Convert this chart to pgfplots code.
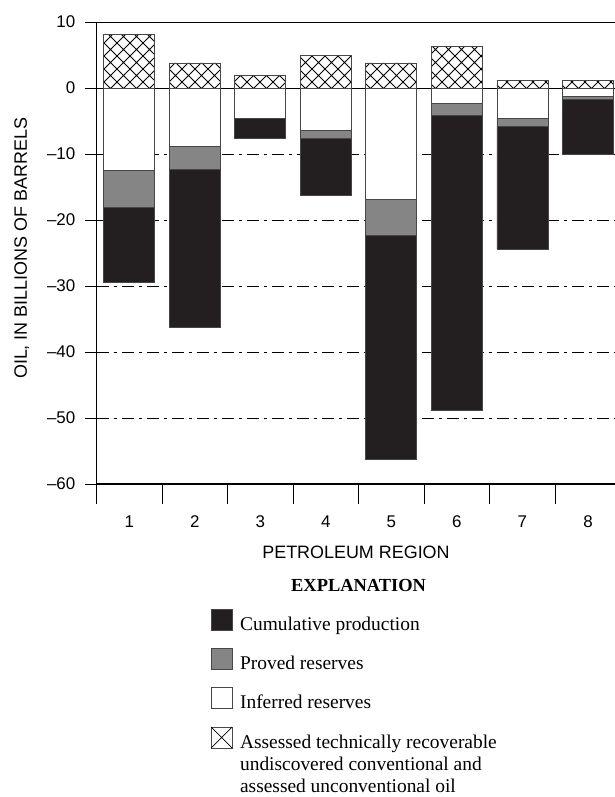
\documentclass[border=0pt]{standalone}
\usepackage{pgfplots}
\pgfplotsset{compat=1.18}
\usepackage{pgfplotstable}
\usepackage{fontspec}
\setmainfont{Liberation Sans}
\newfontfamily\serifface{Liberation Serif}
\usetikzlibrary{patterns.meta}

\definecolor{cumfill}{RGB}{35,31,32}
\definecolor{provfill}{RGB}{133,133,133}
\definecolor{edge}{RGB}{70,70,70}

% open cross-hatching for the assessed (undiscovered + unconventional) oil
\tikzdeclarepattern{
  name=bigcross,
  type=uncolored,
  bounding box={(-1bp,-1bp) and (14bp,14bp)},
  tile size={(13bp,13bp)},
  code={
    \draw[line width=0.9bp] (-0.5bp,-0.5bp) -- (13.5bp,13.5bp)
                            (-0.5bp,13.5bp) -- (13.5bp,-0.5bp);
  }
}

% oil volumes by petroleum region, billions of barrels
% (reserves and production plotted downward, assessed resources upward)
\pgfplotstableread{
region inferred proved cumulative assessed
1 -12.5 -5.6 -11.3 8.1
2 -8.8  -3.6 -23.8 3.8
3 -4.6   0.0  -3.1 1.9
4 -6.4  -1.2  -8.7 5.0
5 -16.9 -5.5 -33.9 3.8
6 -2.4  -1.7 -44.7 6.3
7 -4.6  -1.2 -18.6 1.2
8 -1.2  -0.5  -8.3 1.2
}\oiltable

\begin{document}
\begin{tikzpicture}
\useasboundingbox (0,0) rectangle (615bp,797bp);
\begin{axis}[
  at={(96.5bp,313bp)}, anchor=south west,
  scale only axis, width=519bp, height=462bp,
  xmin=0.5, xmax=8.42, ymin=-60, ymax=10,
  clip=false,
  axis x line*=bottom, axis y line*=left,
  axis line style={line width=1.1bp, black},
  ybar stacked, stack negative=separate, bar width=51bp,
  tick align=outside,
  major tick length=11bp, minor tick length=20bp,
  xtick={1,...,8}, xticklabels={1,2,3,4,5,6,7,8},
  minor xtick={0.5,1.5,...,8.5},
  major x tick style={draw=none},
  minor x tick style={line width=1bp, black},
  ytick={-60,-50,-40,-30,-20,-10},
  yticklabels={--60,--50,--40,--30,--20,--10},
  extra y ticks={0,10},
  extra y tick labels={0,10},
  extra y tick style={grid=major, major grid style={solid, line width=1bp, black}},
  y tick style={line width=1bp, black},
  ymajorgrids,
  major grid style={line width=0.9bp, black, dash pattern=on 12bp off 5bp on 3bp off 5bp},
  tick label style={font=\fontsize{17}{20}\selectfont},
  yticklabel style={anchor=east, inner sep=0pt, xshift=-10bp},
  xticklabel style={anchor=base, inner sep=0pt, yshift=-32bp},
  /pgf/number format/assume math mode=true,
  xlabel={PETROLEUM REGION},
  xlabel style={font=\fontsize{18}{21}\selectfont, at={(axis description cs:0.5,-0.1623)}, anchor=base, inner sep=0pt},
  ylabel={OIL, IN BILLIONS OF BARRELS},
  ylabel style={font=\fontsize{18}{21}\selectfont, at={(axis description cs:-0.1441,0.51)}, anchor=center, inner sep=0pt},
  legend style={draw=none, fill=none, inner sep=0pt, outer sep=0pt,
    at={(axis description cs:0.220,-0.2706)}, anchor=north west,
    row sep=16.3bp, column sep=7.6bp,
    nodes={inner sep=0pt, outer sep=0pt},
    cells={anchor=base west},
    font=\serifface\fontsize{19.5}{22.5}\selectfont},
]
\addplot[fill=white, draw=edge, line width=0.8bp, forget plot]
  table[x=region, y=inferred]{\oiltable};
\addplot[fill=provfill, draw=edge, line width=0.8bp, forget plot]
  table[x=region, y=proved]{\oiltable};
\addplot[fill=cumfill, draw=edge, line width=0.8bp, forget plot]
  table[x=region, y=cumulative]{\oiltable};
\addplot[fill=white, draw=edge, line width=0.8bp, forget plot,
         postaction={pattern=bigcross, pattern color=black}]
  table[x=region, y=assessed]{\oiltable};

\addlegendimage{legend image code/.code={
  \draw[fill=cumfill, draw=edge, line width=0.8bp] (0bp,0bp) rectangle (21bp,21bp);}}
\addlegendentry{\strut Cumulative production}
\addlegendimage{legend image code/.code={
  \draw[fill=provfill, draw=edge, line width=0.8bp] (0bp,0bp) rectangle (21bp,21bp);}}
\addlegendentry{\strut Proved reserves}
\addlegendimage{legend image code/.code={
  \draw[fill=white, draw=edge, line width=0.8bp] (0bp,0bp) rectangle (21bp,21bp);}}
\addlegendentry{\strut Inferred reserves}
\addlegendimage{legend image code/.code={
  \draw[fill=white, draw=edge, line width=0.8bp] (0bp,0bp) rectangle (21bp,21bp);
  \draw[line width=0.8bp] (0bp,0bp) -- (21bp,21bp) (0bp,21bp) -- (21bp,0bp);}}
\addlegendentry{\parbox[t]{280bp}{\strut Assessed technically recoverable\\
  undiscovered conventional and\\assessed unconventional oil}}

\node[font=\serifface\bfseries\fontsize{18.5}{22}\selectfont, anchor=base, inner sep=0pt]
  at (axis description cs:0.505,-0.2333) {EXPLANATION};
\end{axis}
\end{tikzpicture}
\end{document}
